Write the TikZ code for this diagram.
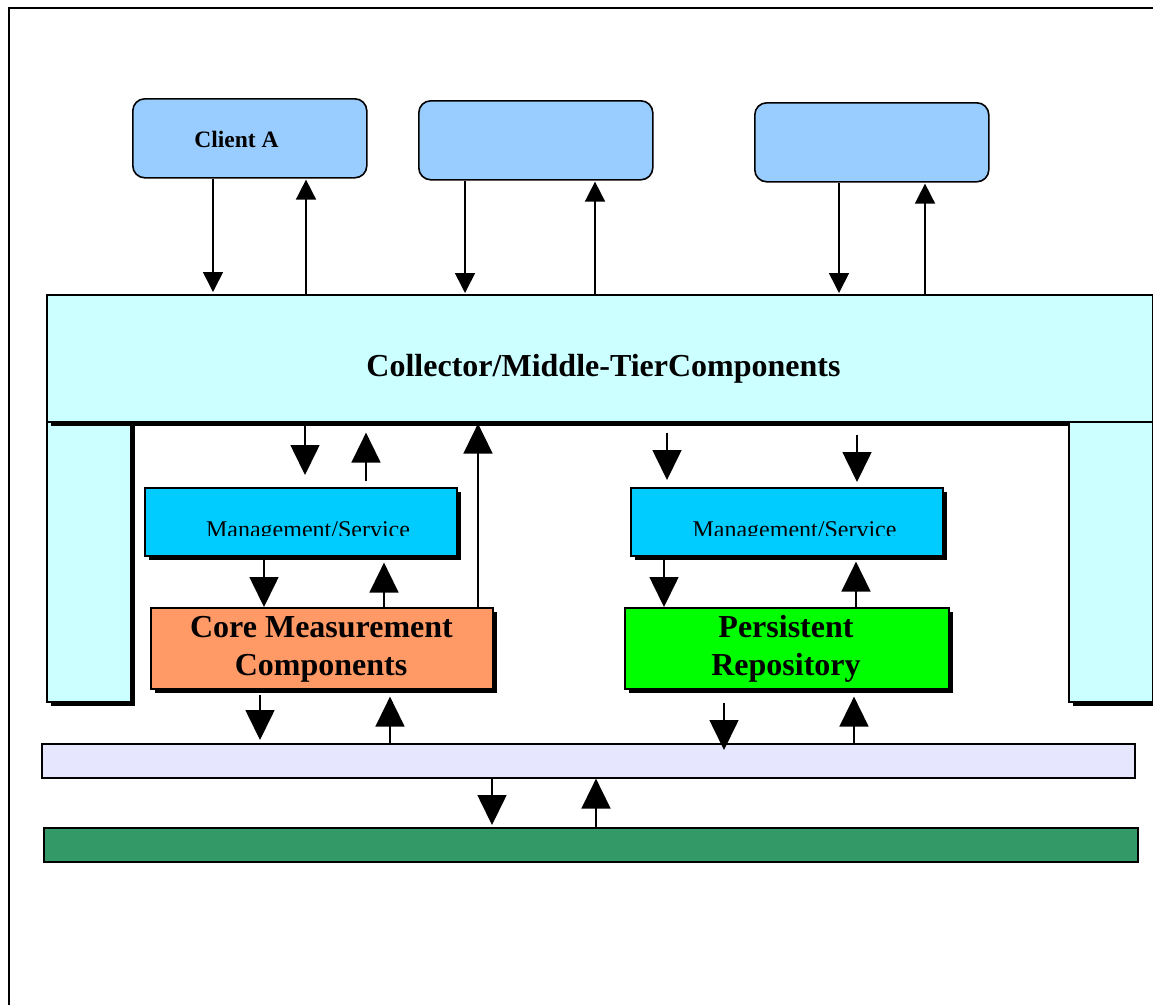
\documentclass[tikz,border=0pt]{standalone}
\usepackage{fontspec}
\setmainfont{Liberation Serif}
\usetikzlibrary{arrows.meta,shadows}

\definecolor{clientblue}{HTML}{99CCFF}
\definecolor{tiercyan}{HTML}{CCFFFF}
\definecolor{mgmtblue}{HTML}{00CCFF}
\definecolor{coreorange}{HTML}{FF9966}
\definecolor{repogreen}{HTML}{00FF00}
\definecolor{buslavender}{HTML}{E6E6FF}
\definecolor{basegreen}{HTML}{339966}

\tikzset{
  box/.style={draw=black, line width=1.6pt, inner sep=0pt, anchor=north west},
  shadowed/.style={general shadow={fill=black, draw=none, shadow xshift=4.5pt, shadow yshift=-4.5pt}},
  clientbox/.style={box, fill=clientblue, rounded corners=12pt, minimum width=234pt, minimum height=79pt},
  mgmtbox/.style={box, shadowed, fill=mgmtblue, minimum width=312pt, minimum height=68pt},
  pillar/.style={box, shadowed, fill=tiercyan, minimum width=84pt, minimum height=280pt},
  label/.style={anchor=base, inner sep=0pt},
  bigtext/.style={label, font=\fontsize{32}{38}\selectfont\bfseries},
  thinarrow/.style={line width=1.6pt, -{Triangle[width=20pt,length=20pt]}},
  bigarrow/.style={line width=1.6pt, -{Triangle[width=29pt,length=30pt]}},
}

\begin{document}
\begin{tikzpicture}[x=1pt,y=-1pt]
\useasboundingbox (0,0) rectangle (1153,1005);

% outer frame (top and left edges)
\draw[line width=2pt] (9,1005) -- (9,8) -- (1153,8);

% client boxes
\node[clientbox] (clientA) at (132,98) {};
\node[clientbox] (clientB) at (418,100) {};
\node[clientbox] (clientC) at (754,102) {};
\node[label, font=\fontsize{23.5}{28}\selectfont\bfseries] (clientAtxt) at (236.5,147) {Client A};

% collector / middle tier with its two side pillars
\node[pillar] (pillarL) at (46,421) {};
\node[box, shadowed, fill=tiercyan, minimum width=1106pt, minimum height=127pt] (collector) at (46,294) {};
\node[pillar] (pillarR) at (1068,421) {};
\node[bigtext] (collectortxt) at (603.5,376) {Collector/Middle-TierComponents};

% management / service boxes
\node[mgmtbox] (mgmtL) at (144,487) {};
\node[mgmtbox] (mgmtR) at (630,487) {};
\begin{scope}
  \clip (144,487) rectangle (456,535);
  \node[label, font=\fontsize{24}{28}\selectfont] (mgmtLtxt) at (308,537.5) {Management/Service};
\end{scope}
\begin{scope}
  \clip (630,487) rectangle (943,535);
  \node[label, font=\fontsize{24}{28}\selectfont] (mgmtRtxt) at (794.5,537.5) {Management/Service};
\end{scope}

% core measurement and persistent repository
\node[box, shadowed, fill=coreorange, minimum width=342pt, minimum height=81pt] (core) at (150,607) {};
\node[bigtext] (coretxtA) at (321.5,637) {Core Measurement};
\node[bigtext] (coretxtB) at (321,675) {Components};
\node[box, shadowed, fill=repogreen, minimum width=324pt, minimum height=81pt] (repo) at (624,607) {};
\node[bigtext] (repotxtA) at (786,637) {Persistent};
\node[bigtext] (repotxtB) at (786,675) {Repository};

% lower bars
\node[box, fill=buslavender, minimum width=1093pt, minimum height=34pt] (bus) at (41,743) {};
\node[box, fill=basegreen, minimum width=1094pt, minimum height=34pt] (base) at (43,827) {};

% client <-> collector
\draw[thinarrow, shorten >=2pt] (clientA.south -| 213,0) -- (collector.north -| 213,0);
\draw[thinarrow, shorten >=1pt] (collector.north -| 306,0) -- (clientA.south -| 306,0);
\draw[thinarrow, shorten >=1pt] (clientB.south -| 465,0) -- (collector.north -| 465,0);
\draw[thinarrow, shorten >=1pt] (collector.north -| 595,0) -- (clientB.south -| 595,0);
\draw[thinarrow, shorten >=1pt] (clientC.south -| 839,0) -- (collector.north -| 839,0);
\draw[thinarrow, shorten >=1pt] (collector.north -| 925,0) -- (clientC.south -| 925,0);

% collector <-> management (left)
\draw[bigarrow, shorten >=12pt] (collector.south -| 305,0) -- (mgmtL.north -| 305,0);
\draw[bigarrow, shorten <=6pt, shorten >=10pt] (mgmtL.north -| 366,0) -- (collector.south -| 366,0);
% management <-> core
\draw[bigarrow] (mgmtL.south -| 264,0) -- (core.north -| 264,0);
\draw[bigarrow, shorten >=6pt] (core.north -| 384,0) -- (mgmtL.south -| 384,0);
% core -> collector
\draw[bigarrow, shorten >=1pt] (core.north -| 478,0) -- (collector.south -| 478,0);
% core <-> bus
\draw[bigarrow, shorten <=5pt, shorten >=3pt] (core.south -| 260,0) -- (bus.north -| 260,0);
\draw[bigarrow, shorten >=7pt] (bus.north -| 390,0) -- (core.south -| 390,0);

% collector -> management (right)
\draw[bigarrow, shorten <=10pt, shorten >=7pt] (collector.south -| 667,0) -- (mgmtR.north -| 667,0);
\draw[bigarrow, shorten <=12pt, shorten >=5pt] (collector.south -| 857,0) -- (mgmtR.north -| 857,0);
% management <-> repository
\draw[bigarrow] (mgmtR.south -| 664,0) -- (repo.north -| 664,0);
\draw[bigarrow, shorten >=5pt] (repo.north -| 856,0) -- (mgmtR.south -| 856,0);
% repository <-> bus
\draw[bigarrow, shorten <=13pt, shorten >=-7pt] (repo.south -| 724,0) -- (bus.north -| 724,0);
\draw[bigarrow, shorten >=7pt] (bus.north -| 854,0) -- (repo.south -| 854,0);

% bus <-> base
\draw[bigarrow, shorten >=2pt] (bus.south -| 492,0) -- (base.north -| 492,0);
\draw[bigarrow] (base.north -| 596,0) -- (bus.south -| 596,0);
\end{tikzpicture}
\end{document}
